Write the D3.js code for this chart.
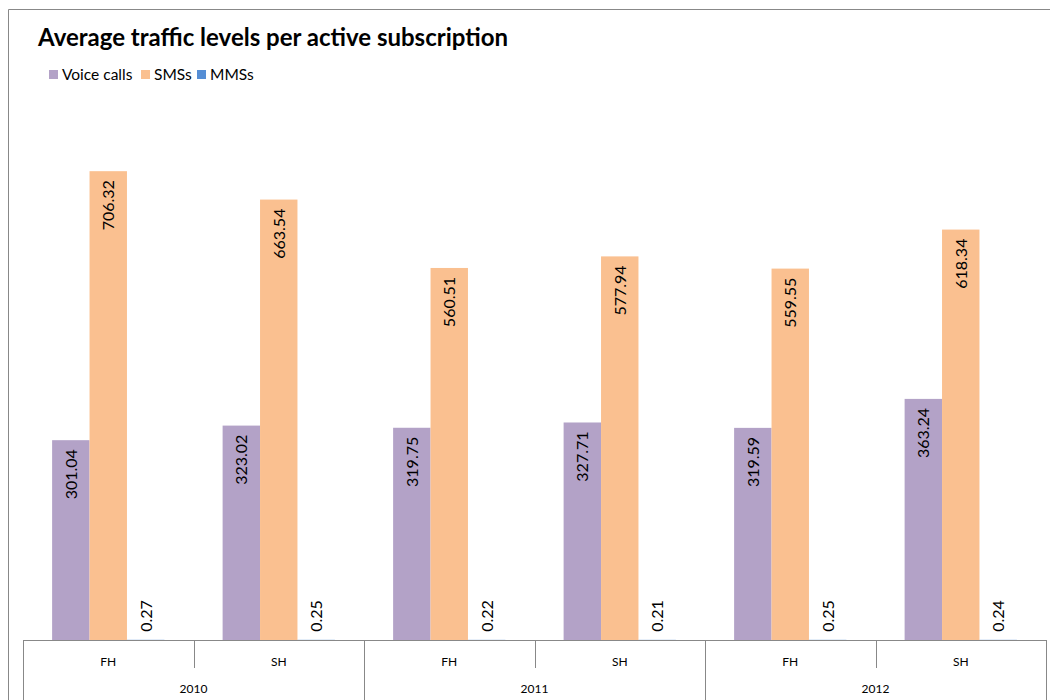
<!DOCTYPE html>
<html>
<head>
<meta charset="utf-8">
<script src="https://cdn.jsdelivr.net/npm/d3@7"></script>
<style>
  body { margin: 0; background: #fff; }
  text { font-family: Lato, "Open Sans", sans-serif; }
</style>
</head>
<body>
<div id="svganchor"></div>
<script>
let width = 1050;
let height = 700;
let margin = { top: 109, right: 4, bottom: 60, left: 23 };

// chart data
let years = ["2010", "2011", "2012"];
let halves = ["FH", "SH"];
let categories = ["2010 FH", "2010 SH", "2011 FH", "2011 SH", "2012 FH", "2012 SH"];
let seriesNames = ["Voice calls", "SMSs", "MMSs"];
let seriesColors = ["#B3A2C7", "#FAC090", "#558ED5"];
let voiceCalls = [301.04, 323.02, 319.75, 327.71, 319.59, 363.24];
let smss = [706.32, 663.54, 560.51, 577.94, 559.55, 618.34];
let mmss = [0.27, 0.25, 0.22, 0.21, 0.25, 0.24];

let seriesValues = [voiceCalls, smss, mmss];

let svg = d3.select("#svganchor").append("svg").attr("width", width).attr("height", height);

// outer frame
svg.append("path")
  .attr("d", "M8.5," + height + " V9.5 H" + width)
  .attr("fill", "none")
  .attr("stroke", "#888")
  .attr("stroke-width", 1);

// title
svg.append("text")
  .attr("x", 38)
  .attr("y", 46)
  .attr("font-size", 24)
  .attr("font-weight", "bold")
  .attr("fill", "#000")
  .text("Average traffic levels per active subscription");

// legend
let legendX = [49, 141, 197];
let legend = svg.selectAll(".legend").data(seriesNames).enter().append("g")
  .attr("class", "legend")
  .attr("transform", (d, i) => "translate(" + legendX[i] + ",70)");
legend.append("rect").attr("width", 9).attr("height", 9).attr("fill", (d, i) => seriesColors[i]);
legend.append("text").attr("x", 13).attr("y", 10).attr("font-size", 15.5).attr("fill", "#000").text(d => d);

let baseY = 640;
let xScale = d3.scaleBand().domain(categories).range([margin.left, width - margin.right]);
let yScale = d3.scaleLinear().domain([0, 800]).range([baseY, margin.top]);
let gap = 0.3415;
let groupW = xScale.bandwidth() * (1 - gap);
let inner = d3.scaleBand().domain(seriesNames)
  .range([xScale.bandwidth() * gap / 2, xScale.bandwidth() * gap / 2 + groupW]);

let data = [];
categories.forEach((c, ci) => {
  seriesNames.forEach((s, si) => {
    data.push({ cat: c, series: s, si: si, value: seriesValues[si][ci] });
  });
});

let bars = svg.append("g");
bars.selectAll("rect").data(data).enter().append("rect")
  .attr("x", d => xScale(d.cat) + inner(d.series))
  .attr("y", d => yScale(d.value))
  .attr("width", inner.bandwidth())
  .attr("height", d => baseY - yScale(d.value))
  .attr("fill", d => seriesColors[d.si]);

// value labels, rotated: inside end for big bars, outside end for tiny ones
bars.selectAll("text").data(data).enter().append("text")
  .attr("transform", d => {
    let cx = xScale(d.cat) + inner(d.series) + inner.bandwidth() / 2;
    let y = d.value > 50 ? yScale(d.value) + 9 : yScale(d.value) - 8;
    return "translate(" + (cx + 6) + "," + y + ") rotate(-90)";
  })
  .attr("text-anchor", d => d.value > 50 ? "end" : "start")
  .attr("font-size", 16)
  .attr("fill", "#000")
  .text(d => d.value.toFixed(2));

// axis: baseline and category separators
let axis = svg.append("g").attr("stroke", "#888").attr("stroke-width", 1);
axis.append("line")
  .attr("x1", margin.left).attr("x2", width - margin.right)
  .attr("y1", baseY + 0.5).attr("y2", baseY + 0.5);

let yearW = xScale.bandwidth() * halves.length;
categories.forEach((c, i) => {
  let x = Math.round(xScale(c)) + 0.5;
  axis.append("line")
    .attr("x1", x).attr("x2", x)
    .attr("y1", baseY).attr("y2", i % 2 === 0 ? height : 668);
});
axis.append("line")
  .attr("x1", width - margin.right + 0.5).attr("x2", width - margin.right + 0.5)
  .attr("y1", baseY).attr("y2", height);

svg.selectAll(".half").data(categories).enter().append("text")
  .attr("class", "half")
  .attr("x", d => xScale(d) + xScale.bandwidth() / 2)
  .attr("y", 666)
  .attr("text-anchor", "middle")
  .attr("font-size", 12)
  .attr("fill", "#000")
  .text((d, i) => halves[i % 2]);

svg.selectAll(".year").data(years).enter().append("text")
  .attr("class", "year")
  .attr("x", (d, i) => margin.left + yearW * i + yearW / 2)
  .attr("y", 693)
  .attr("text-anchor", "middle")
  .attr("font-size", 12)
  .attr("fill", "#000")
  .text(d => d);
</script>
</body>
</html>
